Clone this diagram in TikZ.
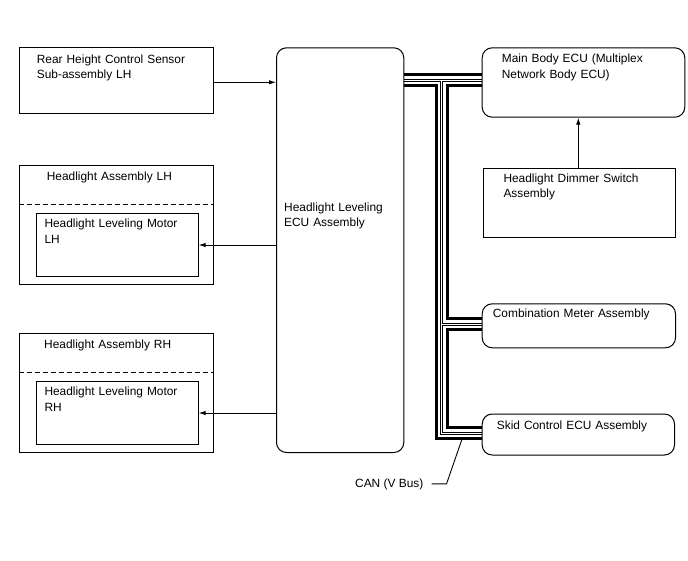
\documentclass[tikz,border=0pt]{standalone}
\usepackage{fontspec}
\setmainfont{Liberation Sans}
\usetikzlibrary{arrows.meta,backgrounds}
\begin{document}
\begin{tikzpicture}[x=1pt,y=-1pt,
  box/.style={draw=black, line width=1pt, fill=white, inner sep=0pt, anchor=north west},
  rbox/.style={box, rounded corners=10pt},
  lbl/.style={anchor=base west, inner sep=0pt, text width=220pt, align=left, font=\fontsize{11.9}{15.3}\selectfont},
  sig/.style={line width=0.9pt, -{Latex[length=7pt,width=4.5pt]}},
  sep/.style={line width=0.8pt, dash pattern=on 5pt off 3pt},
  lead/.style={line width=0.9pt},
]
\useasboundingbox (0,0) rectangle (688,560);

% boxes
\node[box, minimum width=193.7pt, minimum height=65.4pt] (rear) at (19.3,47.3) {};
\node[box, minimum width=194pt, minimum height=119.3pt] (halh) at (19.3,165) {};
\node[box, minimum width=162pt, minimum height=63.3pt] (mlh) at (35.7,212.7) {};
\node[box, minimum width=194pt, minimum height=119.3pt] (harh) at (19.3,333) {};
\node[box, minimum width=162pt, minimum height=63.3pt] (mrh) at (35.7,380.7) {};
\node[rbox, minimum width=127.3pt, minimum height=404.7pt] (ecu) at (276,47.3) {};
\node[rbox, minimum width=202.6pt, minimum height=69.4pt] (main) at (481.7,47.3) {};
\node[box, minimum width=192.3pt, minimum height=68.4pt] (dim) at (482.7,168.3) {};
\node[rbox, minimum width=193.3pt, minimum height=44pt] (comb) at (481.7,303.3) {};
\node[rbox, minimum width=192.3pt, minimum height=41pt] (skid) at (481.7,413.5) {};

% dashed separators
\draw[sep] (halh.west |- 0,204) -- (halh.east |- 0,204);
\draw[sep] (harh.west |- 0,372) -- (harh.east |- 0,372);

% labels
\node[lbl] (trear) at (36.7,63) {Rear Height Control Sensor\\Sub-assembly LH};
\node[lbl] (thalh) at (46.7,180) {Headlight Assembly LH};
\node[lbl] (tmlh) at (44.3,227.7) {Headlight Leveling Motor\\LH};
\node[lbl] (tharh) at (44,348) {Headlight Assembly RH};
\node[lbl] (tmrh) at (44.3,395.7) {Headlight Leveling Motor\\RH};
\node[lbl] (tecu) at (284,211) {Headlight Leveling\\ECU Assembly};
\node[lbl] (tmain) at (501.7,62.7) {Main Body ECU (Multiplex\\Network Body ECU)};
\node[lbl] (tdim) at (503.3,182) {Headlight Dimmer Switch\\Assembly};
\node[lbl] (tcomb) at (492.7,317.7) {Combination Meter Assembly};
\node[lbl] (tskid) at (496.7,429.7) {Skid Control ECU Assembly};
\node[anchor=base west, inner sep=0pt, font=\fontsize{11.9}{15.3}\selectfont] (can) at (355,487) {CAN (V Bus)};

% signal arrows
\draw[sig] (rear.east |- 0,82.3) -- (ecu.west |- 0,82.3);
\draw[sig] (ecu.west |- 0,245) -- (mlh.east |- 0,245);
\draw[sig] (ecu.west |- 0,413) -- (mrh.east |- 0,413);
\draw[sig] (dim.north -| 578.3,0) -- (main.south -| 578.3,0);

% CAN bus
\coordinate (j1) at (441.7,80);
\coordinate (j2) at (441.7,324);
\coordinate (j3) at (441.7,433);
\coordinate (canpt) at (461.7,440);
\newcommand{\canpath}[1]{%
  \draw[#1] (ecu.east |- j1) -- (main.west |- j1)
    (j1) -- (j3) -- (skid.west |- j3)
    (j2) -- (comb.west |- j2);}
\begin{pgfonlayer}{background}
\canpath{black, line width=14pt}
\canpath{white, line width=8pt}
\canpath{black, line width=3pt}
\canpath{white, line width=1pt}
\end{pgfonlayer}

% CAN leader
\draw[lead] ([xshift=8pt]can.east) -- ++(15,0) -- (canpt);
\end{tikzpicture}
\end{document}
